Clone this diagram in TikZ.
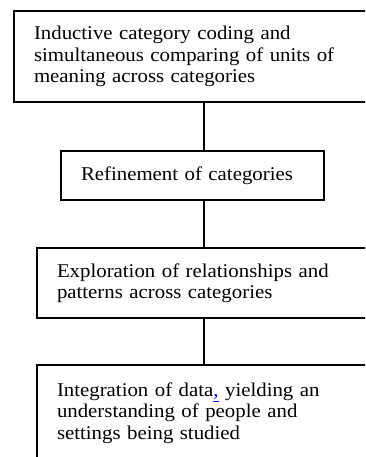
\documentclass[tikz,border=0pt]{standalone}
\usepackage{fontspec}
\setmainfont[FakeStretch=1.07]{Liberation Serif}
\tikzstyle{line} = [draw, line width=1.5pt]
\tikzstyle{stage} = [draw, rectangle, line width=1.5pt, align=left, anchor=north west, inner xsep=15pt, inner ysep=0pt, font=\fontsize{14.6}{16}\selectfont]

\begin{document}
\begin{tikzpicture}[x=0.75pt, y=-0.75pt]
        \useasboundingbox (0,0) rectangle (365,457);
        \clip (0,0) rectangle (365,457);
        \coordinate (spine) at (204,0);
        \node[stage, minimum width=290.25pt, text width=260.25pt, minimum height=68.25pt] (coding) at (13,10) {Inductive category coding and\\simultaneous comparing of units of\\meaning across categories};
        \node[stage, minimum width=197.25pt, text width=167.25pt, minimum height=36.75pt] (refine) at (60,150) {Refinement of categories};
        \node[stage, minimum width=273pt, text width=243pt, minimum height=52.5pt] (explore) at (36,247) {Exploration of relationships and\\patterns across categories};
        \node[stage, minimum width=273pt, text width=243pt, minimum height=72pt] (integrate) at (36,364) {Integration of data{\color{blue}\underline{,}} yielding an\\understanding of people and\\settings being studied};
        \path[line] (coding.south -| spine) -- (refine.north -| spine);
        \path[line] (refine.south -| spine) -- (explore.north -| spine);
        \path[line] (explore.south -| spine) -- (integrate.north -| spine);
\end{tikzpicture}
\end{document}
